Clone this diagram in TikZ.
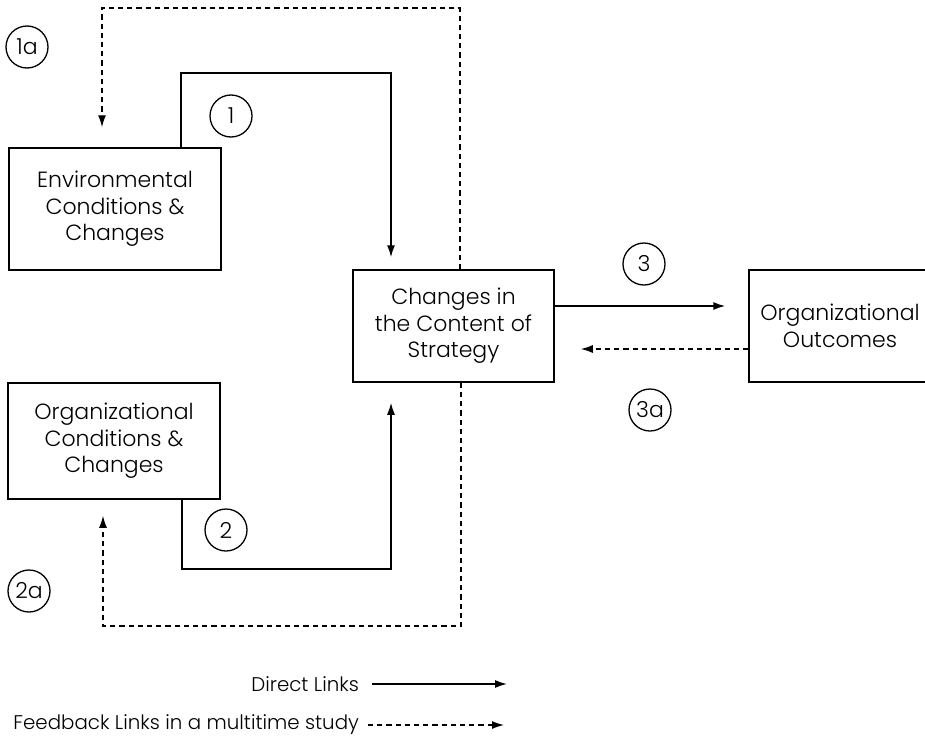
\documentclass[tikz,border=0pt]{standalone}
\usepackage{fontspec}
\setmainfont{Poppins}[UprightFont={* Light}]
\usetikzlibrary{arrows.meta,positioning,calc}

\begin{document}
\begin{tikzpicture}[
  x=0.5pt, y=-0.5pt,
  font=\fontsize{11}{13.2}\selectfont,
  >={Latex[length=6pt,width=4pt]},
  box/.style={draw, line width=0.75pt, align=center, inner sep=2pt},
  num/.style={draw, circle, line width=0.65pt, minimum size=21pt, inner sep=0pt},
  direct/.style={->, line width=0.75pt},
  feedback/.style={->, line width=0.65pt, dash pattern=on 2.6pt off 2pt},
  legend/.style={anchor=east, font=\fontsize{9.9}{12}\selectfont}
]
\useasboundingbox (0,0) rectangle (925,739);

% boxes
\node[box, minimum width=106pt, minimum height=61pt] (env) at (115,209) {Environmental\\Conditions \&\\Changes};
\node[box, minimum width=106pt, minimum height=58pt] (org) at (114,441) {Organizational\\Conditions \&\\Changes};
\node[box, minimum width=100.5pt, minimum height=56pt] (strat) at (453.5,326) {Changes in\\the Content of\\Strategy};
\node[box, minimum width=91pt, minimum height=56pt] (out) at (840,326) {Organizational\\Outcomes};

% link numbers
\node[num] (c1a) at (27,47) {1a};
\node[num] (c1) at (231,116) {1};
\node[num] (c3) at (644,264) {3};
\node[num] (c3a) at (650,410) {3a};
\node[num] (c2) at (226,530) {2};
\node[num] (c2a) at (29,591) {2a};

% direct links
\draw[direct, shorten >=6pt] (env.north -| 181,0) |- (391,73) -- (strat.north -| 391,0);
\draw[direct, shorten >=10pt] (org.south -| 182,0) |- (391,569) -- (strat.south -| 391,0);
\draw[direct, shorten >=11.5pt] (strat.east |- 0,306) -- (out.west |- 0,306);

% feedback links
\draw[feedback, shorten >=10pt] (strat.north -| 460,0) |- (102,8) -- (env.north -| 102,0);
\draw[feedback, shorten >=8pt] (strat.south -| 461,0) |- (103,626) -- (org.south -| 103,0);
\draw[feedback, shorten >=13pt] (out.west |- 0,349) -- (strat.east |- 0,349);

% legend
\node[legend] (dlk) at (366,684) {Direct Links};
\node[legend] (fbk) at (366,725) {Feedback Links in a multitime study};
\coordinate (dlend) at (507,684);
\coordinate (fbend) at (504,725);
\draw[direct, shorten <=3pt] (dlk.east) -- (dlend);
\draw[feedback, shorten <=1pt] (fbk.east) -- (fbend);

\end{tikzpicture}
\end{document}
